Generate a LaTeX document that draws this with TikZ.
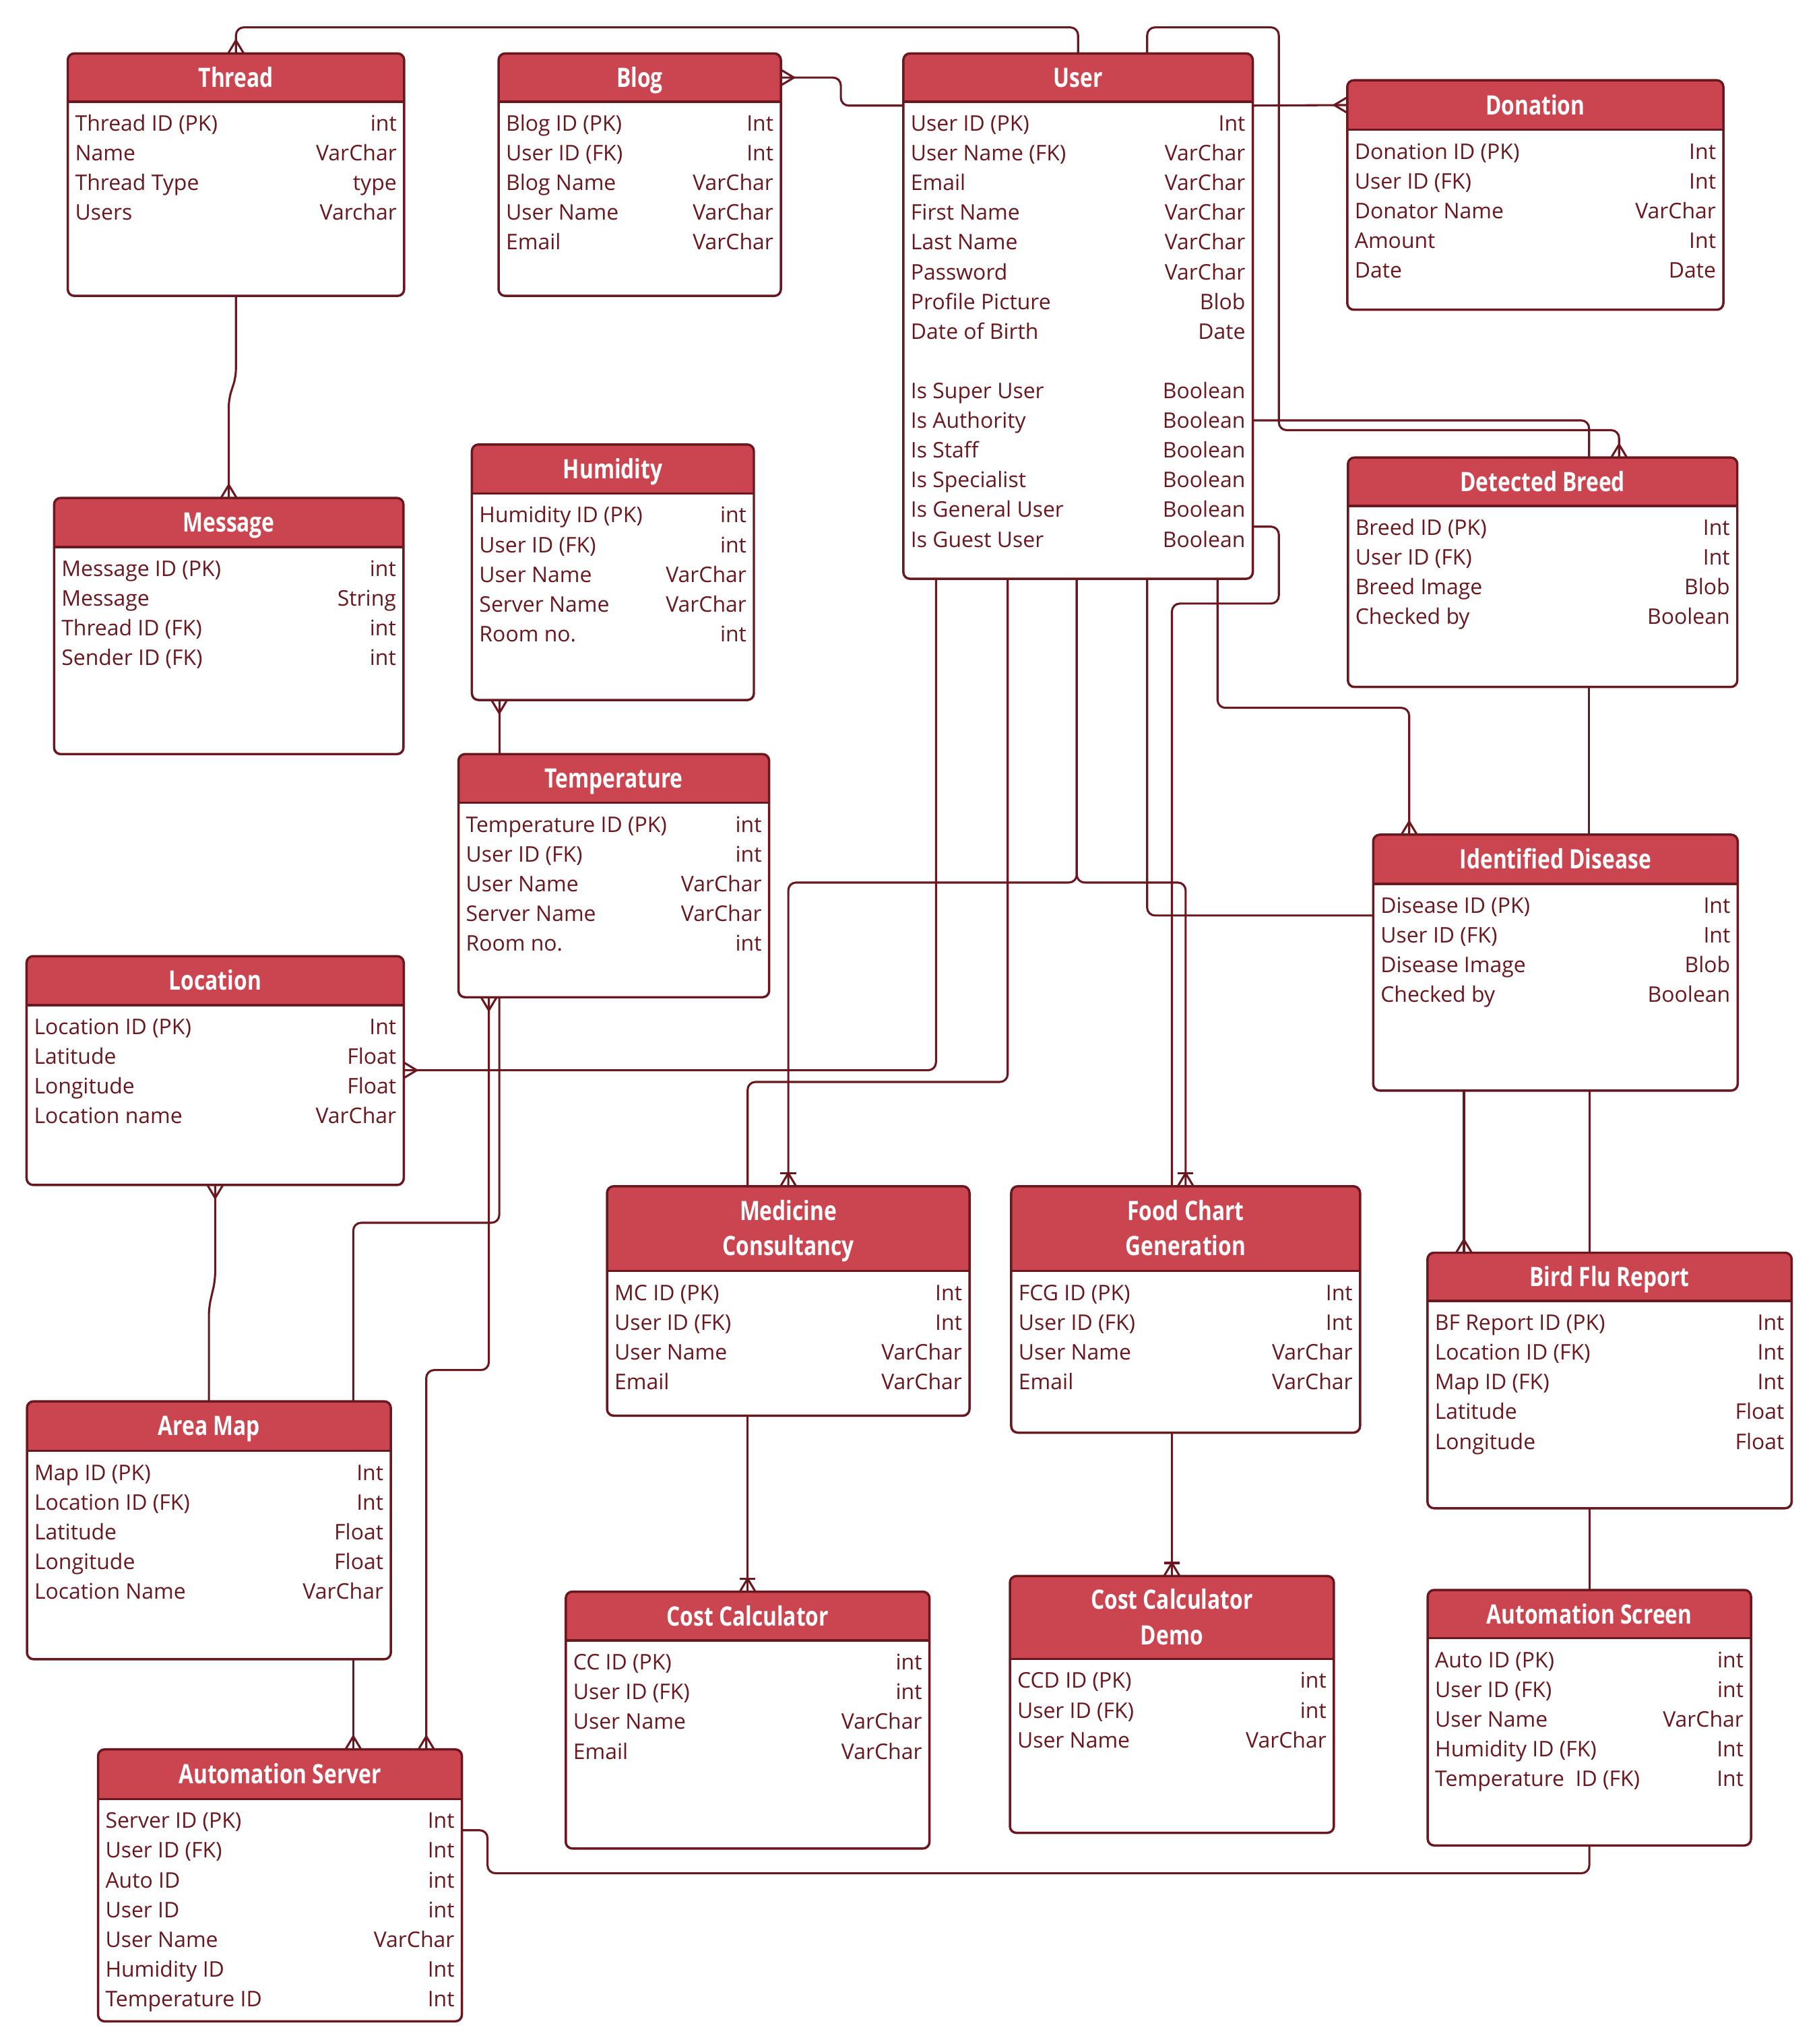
\documentclass[tikz,border=0pt]{standalone}
\usepackage{fontspec}
\setmainfont{Open Sans}
\newfontfamily\titlefont[FakeStretch=0.8]{Open Sans}
\usepackage{tikz}
\usetikzlibrary{calc}
\definecolor{headred}{RGB}{203,69,80}
\definecolor{ink}{RGB}{104,24,30}
\tikzset{
  entitybox/.style={draw=ink, line width=1.8pt, fill=white, rounded corners=5pt,
    inner sep=0pt, outer sep=0pt, anchor=north west},
  titletext/.style={text=white, font=\titlefont\bfseries\fontsize{20.5}{27}\selectfont,
    align=center, inner sep=0pt, text height=14.6pt, text depth=0pt},
  twolines/.style={text height=41.6pt},
  fieldname/.style={text=ink, font=\fontsize{16.5}{20}\selectfont, anchor=west,
    inner sep=0pt, text height=14pt, text depth=2pt},
  fieldtype/.style={fieldname, anchor=east},
  link/.style={draw=ink, line width=1.6pt, rounded corners=6pt},
  foot/.style={draw=ink, line width=1.6pt, sharp corners},
  many/.pic={\draw[foot] (-6,0) -- (0,-10) -- (6,0);},
  onemany/.pic={\draw[foot] (-6,0) -- (0,-10) -- (6,0); \draw[foot] (-6,-10) -- (6,-10);}
}
% [title options]{name}{x}{y}{width}{height}{header}{title}{rows}
\newcommand\entity[9][]{
  \node[entitybox, minimum width=#5pt, minimum height=#6pt,
    path picture={\fill[headred, sharp corners] (path picture bounding box.north west)
      rectangle ([yshift=-#7pt]path picture bounding box.north east);}]
    (#2) at (#3,#4) {};
  \draw[ink, line width=1.8pt] ([yshift=-#7pt]#2.north west) -- ([yshift=-#7pt]#2.north east);
  \node[titletext,#1] (#2-title) at ([yshift=-#7pt/2]#2.north) {#8};
  \foreach \fname/\ftype [count=\i] in {#9}{
    \node[fieldname] (#2-n\i) at ([xshift=5.5pt,yshift=-#7pt-16.5pt-(\i-1)*22.8pt]#2.north west) {\fname};
    \node[fieldtype] (#2-t\i) at ([xshift=-5.5pt,yshift=-#7pt-16.5pt-(\i-1)*22.8pt]#2.north east) {\ftype};
  }
}

\begin{document}
\begin{tikzpicture}[x=1pt,y=-1pt]
\useasboundingbox (0,0) rectangle (1395,1568);

\entity{thread}{52}{41}{258}{186}{37}{Thread}{Thread ID (PK)/int, Name/VarChar, Thread Type/type, Users/Varchar}
\entity{blog}{382.5}{41}{216.5}{186}{37}{Blog}{Blog ID (PK)/Int, User ID (FK)/Int, Blog Name/VarChar, User Name/VarChar, Email/VarChar}
\entity{user}{693}{41}{268}{403}{37}{User}{User ID (PK)/Int, User Name (FK)/VarChar, Email/VarChar, First Name/VarChar,
  Last Name/VarChar, Password/VarChar, Profile Picture/Blob, Date of Birth/Date, ~/~, Is Super User/Boolean,
  Is Authority/Boolean, Is Staff/Boolean, Is Specialist/Boolean, Is General User/Boolean, Is Guest User/Boolean}
\entity{donation}{1033.5}{61.6}{288.5}{176}{38}{Donation}{Donation ID (PK)/Int, User ID (FK)/Int, Donator Name/VarChar, Amount/Int, Date/Date}
\entity{message}{41.5}{382}{268}{196.5}{37.7}{Message}{Message ID (PK)/int, Message/String, Thread ID (FK)/int, Sender ID (FK)/int}
\entity{humid}{362}{341}{216.3}{196}{37.5}{Humidity}{Humidity ID (PK)/int, User ID (FK)/int, User Name/VarChar, Server Name/VarChar, Room no./int}
\entity{breed}{1034}{351}{298.7}{176}{37}{Detected Breed}{Breed ID (PK)/Int, User ID (FK)/Int, Breed Image/Blob, Checked by/Boolean}
\entity{temp}{351.7}{578.5}{238.3}{186.5}{37.3}{Temperature}{Temperature ID (PK)/int, User ID (FK)/int, User Name/VarChar, Server Name/VarChar, Room no./int}
\entity{loc}{20.4}{733.5}{289.3}{175.5}{37.5}{Location}{Location ID (PK)/Int, Latitude/Float, Longitude/Float, Location name/VarChar}
\entity{disease}{1053.4}{640.3}{279.6}{196.3}{37.7}{Identified Disease}{Disease ID (PK)/Int, User ID (FK)/Int, Disease Image/Blob, Checked by/Boolean}
\entity[twolines]{medic}{465.7}{910}{278}{176}{65}{Medicine\\Consultancy}{MC ID (PK)/Int, User ID (FK)/Int, User Name/VarChar, Email/VarChar}
\entity[twolines]{food}{775.7}{910}{267.6}{189}{65}{Food Chart\\Generation}{FCG ID (PK)/Int, User ID (FK)/Int, User Name/VarChar, Email/VarChar}
\entity{bird}{1095}{961}{279.4}{196}{37}{Bird Flu Report}{BF Report ID (PK)/Int, Location ID (FK)/Int, Map ID (FK)/Int, Latitude/Float, Longitude/Float}
\entity{areamap}{20.7}{1075}{279.1}{197.8}{38}{Area Map}{Map ID (PK)/Int, Location ID (FK)/Int, Latitude/Float, Longitude/Float, Location Name/VarChar}
\entity{cost}{434}{1221}{279}{197}{37.5}{Cost Calculator}{CC ID (PK)/int, User ID (FK)/int, User Name/VarChar, Email/VarChar}
\entity[twolines]{demo}{774.7}{1209}{248.5}{197}{63.6}{Cost Calculator\\Demo}{CCD ID (PK)/int, User ID (FK)/int, User Name/VarChar}
\entity{screen}{1095.2}{1219.7}{248}{196}{37}{Automation Screen}{Auto ID (PK)/int, User ID (FK)/int, User Name/VarChar, Humidity ID (FK)/Int, Temperature\ \ ID (FK)/Int}
\entity{server}{75.2}{1342}{279.1}{208.6}{38}{Automation Server}{Server ID (PK)/Int, User ID (FK)/Int, Auto ID/int, User ID/int,
  User Name/VarChar, Humidity ID/Int, Temperature ID/Int}

% Thread, Blog, Donation
\draw[link] (thread.north) -- ++(0,-20) -| (user.north);
\pic at (thread.north) {many};
\draw[link] (blog-title -| blog.east) -| (645,81) -- ([yshift=-40pt]user.north west);
\pic[rotate=-90] at (blog-title -| blog.east) {many};
\draw[link] ([yshift=-40pt]user.north east) -- (donation-title -| donation.west);
\pic[rotate=90] at (donation-title -| donation.west) {many};

% Detected Breed, Identified Disease
\draw[link] (880,0 |- user.north) |- (981,21) |- (1242,330) -- (1242,0 |- breed.north);
\pic at (1242,0 |- breed.north) {many};
\draw[link] (user-n11 -| user.east) -| (1219,0 |- breed.north);
\draw[link] (1219,0 |- breed.south) -- (1219,0 |- disease.north);
\draw[link] (934,0 |- user.south) -- (934,543) -| (1081,0 |- disease.north);
\pic at (1081,0 |- disease.north) {many};
\draw[link] (880,0 |- user.south) |- ([yshift=-62pt]disease.north west);

% Medicine, Food Chart, Location
\draw[link] (826,0 |- user.south) -- (826,677) -| (medic.north);
\draw[link] (826,0 |- user.south) -- (826,677) -| (food.north);
\pic at (medic.north) {onemany};
\pic at (food.north) {onemany};
\draw[link] (773,0 |- user.south) -- (773,830) -| (cost.north |- medic.north);
\draw[link] ([yshift=-363pt]user.north east) -| (981,463) -| (899,0 |- food.north);
\draw[link] (718,0 |- user.south) |- ([yshift=-87.5pt]loc.north east);
\pic[rotate=-90] at ([yshift=-87.5pt]loc.north east) {many};

% Message, Humidity, Temperature
\draw[link] (thread.south) -- ++(0,62) -- ([yshift=76pt]message.north) -- (message.north);
\pic at (message.north) {many};
\draw[link] (383,0 |- humid.south) -- (383,0 |- temp.north);
\pic[rotate=180] at (383,0 |- humid.south) {many};
\draw[link] (383,0 |- temp.south) -- (383,938) -| (271,0 |- areamap.north);
\draw[link] (375,0 |- temp.south) -- (375,1051) -| (327,0 |- server.north);
\pic[rotate=180] at (375,0 |- temp.south) {many};
\pic at (327,0 |- server.north) {many};

% Location, Area Map, Automation Server
\draw[link] (loc.south) -- ++(0,73) -- ([yshift=72pt]areamap.north) -- (areamap.north);
\pic[rotate=180] at (loc.south) {many};
\draw[link] (271,0 |- areamap.south) -- (271,0 |- server.north);
\pic at (271,0 |- server.north) {many};
\draw[link] ([yshift=-62pt]server.north east) -| (374,1437) -| (screen.south);

% cost calculators, bird flu
\draw[link] (cost.north |- medic.south) -- (cost.north);
\pic at (cost.north) {onemany};
\draw[link] (demo.north |- food.south) -- (demo.north);
\pic at (demo.north) {onemany};
\draw[link] (1123,0 |- disease.south) -- (1123,0 |- bird.north);
\pic at (1123,0 |- bird.north) {many};
\draw[link] (screen.north |- disease.south) -- (screen.north |- bird.north);
\draw[link] (screen.north |- bird.south) -- (screen.north);
\end{tikzpicture}
\end{document}
